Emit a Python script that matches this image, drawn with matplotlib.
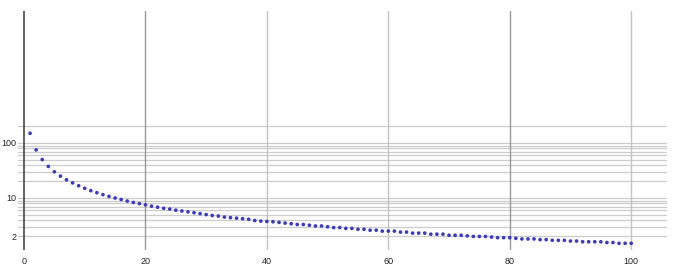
import numpy as np
import matplotlib
matplotlib.use('Agg')
import matplotlib.pyplot as plt

# valeurs (axe y logarithmique)
x_vals = np.arange(1, 101)
y_vals = [
    150, 75, 50, 37.5, 30, 25, 21.4, 18.8, 16.7, 15,
    13.6, 12.5, 11.5, 10.7, 10, 9.4, 8.8, 8.3, 7.9, 7.5,
    7.1, 6.8, 6.5, 6.3, 6.0, 5.8, 5.6, 5.4, 5.2, 5.0,
    4.8, 4.7, 4.5, 4.4, 4.3, 4.2, 4.1, 3.9, 3.8, 3.75,
    3.7, 3.6, 3.5, 3.4, 3.3, 3.3, 3.2, 3.1, 3.1, 3.0,
    2.9, 2.9, 2.8, 2.8, 2.7, 2.7, 2.6, 2.6, 2.5, 2.5,
    2.5, 2.4, 2.4, 2.3, 2.3, 2.3, 2.2, 2.2, 2.2, 2.1,
    2.1, 2.1, 2.05, 2.0, 2.0, 2.0, 1.95, 1.9, 1.9, 1.9,
    1.85, 1.8, 1.8, 1.8, 1.75, 1.75, 1.7, 1.7, 1.7, 1.65,
    1.65, 1.6, 1.6, 1.6, 1.6, 1.55, 1.55, 1.5, 1.5, 1.5,
]
x_ticks = [0, 20, 40, 60, 80, 100]
y_ticks = [2, 10, 100]
y_grid = [2, 3, 4, 5, 6, 7, 8, 9, 10, 20, 30, 40, 50, 60, 70, 80, 90, 100, 200]

plt.rcParams['font.family'] = ['Liberation Sans', 'DejaVu Sans']

fig = plt.figure(figsize=(6.9, 2.67), dpi=100)
ax = fig.add_axes([18 / 690, 17 / 267, (667 - 18) / 690, (250 - 10.7) / 267])

ax.set_yscale('log')
ax.set_xlim(-0.99, 105.9)
ax.set_ylim(1.134, 25400)

# lignes de grille
for g in y_grid:
    ax.axhline(g, color='#cccccc', linewidth=0.9, zorder=1)
for t in x_ticks[1:]:
    c = '#999999' if t in (20, 80) else '#c4c4c4'
    ax.axvline(t, color=c, linewidth=1.0, zorder=1)
ax.axvline(0, color='#555555', linewidth=1.3, zorder=2)

ax.scatter(x_vals, y_vals, s=7, color='#3a3ac4', edgecolors='none', zorder=3)

ax.set_xticks(x_ticks)
ax.set_xticklabels([str(t) for t in x_ticks])
ax.set_yticks(y_ticks)
ax.set_yticklabels([str(t) for t in y_ticks])
ax.yaxis.set_minor_locator(matplotlib.ticker.NullLocator())
ax.tick_params(axis='both', length=0, labelsize=6.5, colors='#222222')
ax.tick_params(axis='x', pad=5)
ax.tick_params(axis='y', pad=1)

for s in ax.spines.values():
    s.set_visible(False)

fig.savefig('out.png', dpi=100)
